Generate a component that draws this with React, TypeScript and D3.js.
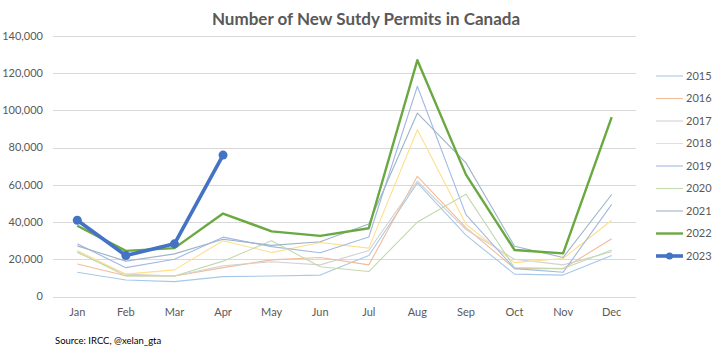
import React from "react";
import * as d3 from "d3";

const months = ["Jan", "Feb", "Mar", "Apr", "May", "Jun", "Jul", "Aug", "Sep", "Oct", "Nov", "Dec"];
const yTicks = [0, 20000, 40000, 60000, 80000, 100000, 120000, 140000];

const s2015 = [13000, 8900, 8000, 10700, 11000, 11500, 22000, 61000, 33000, 12000, 11500, 22000];
const s2016 = [17500, 11200, 11000, 15500, 19700, 21000, 17000, 64600, 37000, 15000, 15000, 31000];
const s2017 = [23600, 12000, 11000, 16500, 18700, 17000, 24700, 62000, 36000, 20000, 17000, 24000];
const s2018 = [24700, 12000, 14300, 30000, 23600, 29000, 26000, 89600, 38800, 18200, 20400, 41000];
const s2019 = [28300, 15500, 20000, 31900, 26800, 23500, 32000, 113000, 44000, 15000, 13000, 49500];
const s2020 = [24000, 11000, 11000, 19000, 30000, 16000, 13400, 40000, 55000, 15500, 15000, 25000];
const s2021 = [27200, 19000, 22900, 30800, 27500, 29400, 39000, 98600, 71800, 27000, 21000, 54800];
const s2022 = [38000, 24500, 26000, 44600, 35000, 32600, 36700, 127000, 65500, 25000, 23200, 96400];
const s2023 = [41000, 22000, 28300, 76000];

const series = [
  { name: "2015", values: s2015, color: "#A8C8E8", width: 1.1 },
  { name: "2016", values: s2016, color: "#F2BC98", width: 1.1 },
  { name: "2017", values: s2017, color: "#D2D2D2", width: 1.1 },
  { name: "2018", values: s2018, color: "#FFDF8C", width: 1.1 },
  { name: "2019", values: s2019, color: "#A3B9E2", width: 1.1 },
  { name: "2020", values: s2020, color: "#C2DAAE", width: 1.1 },
  { name: "2021", values: s2021, color: "#9DB4CA", width: 1.1 },
  { name: "2022", values: s2022, color: "#6AA842", width: 2.4 },
  { name: "2023", values: s2023, color: "#4472C4", width: 3.6, marker: true },
];

const FONT = "Lato, 'Open Sans', sans-serif";

export default function App() {
  const x = d3.scalePoint<string>().domain(months).range([53, 636]).padding(0.5);
  const y = d3.scaleLinear().domain([0, 140000]).range([296.5, 36]);
  const fmt = d3.format(",");
  const line = d3
    .line<number>()
    .x((_, i) => x(months[i]) as number)
    .y((d) => y(d));

  return (
    <svg
      width={722}
      height={356}
      style={{ position: "absolute", left: 0, top: 0, background: "#fff" }}
      fontFamily={FONT}
    >
      <rect x={0} y={0} width={722} height={356} fill="#fff" />
      <text x={366} y={25} textAnchor="middle" fontSize={17} fontWeight="bold" fill="#595959">
        Number of New Sutdy Permits in Canada
      </text>
      {yTicks.map((t) => (
        <g key={t}>
          <line x1={53} x2={636} y1={Math.round(y(t)) + 0.5} y2={Math.round(y(t)) + 0.5} stroke="#D9D9D9" strokeWidth={1} />
          <text x={43} y={y(t)} dy="0.35em" textAnchor="end" fontSize={11} fill="#595959">
            {fmt(t)}
          </text>
        </g>
      ))}
      {months.map((m) => (
        <text key={m} x={x(m) as number} y={316} textAnchor="middle" fontSize={11} fill="#595959">
          {m}
        </text>
      ))}
      {series.map((s) => (
        <g key={s.name}>
          <path d={line(s.values) || ""} fill="none" stroke={s.color} strokeWidth={s.width} strokeLinejoin="round" />
          {s.marker &&
            s.values.map((v, i) => (
              <circle key={i} cx={x(months[i]) as number} cy={y(v)} r={4.5} fill={s.color} />
            ))}
        </g>
      ))}
      {series.map((s, i) => {
        const ly = 76 + i * 22.5;
        return (
          <g key={s.name}>
            <line x1={656} x2={683} y1={ly} y2={ly} stroke={s.color} strokeWidth={s.width} />
            {s.marker && <circle cx={669.5} cy={ly} r={3.5} fill={s.color} />}
            <text x={686} y={ly} dy="0.35em" fontSize={11} fill="#595959">
              {s.name}
            </text>
          </g>
        );
      })}
      <text x={55} y={344} fontSize={9.5} fill="#000">
        Source: IRCC, @xelan_gta
      </text>
    </svg>
  );
}
